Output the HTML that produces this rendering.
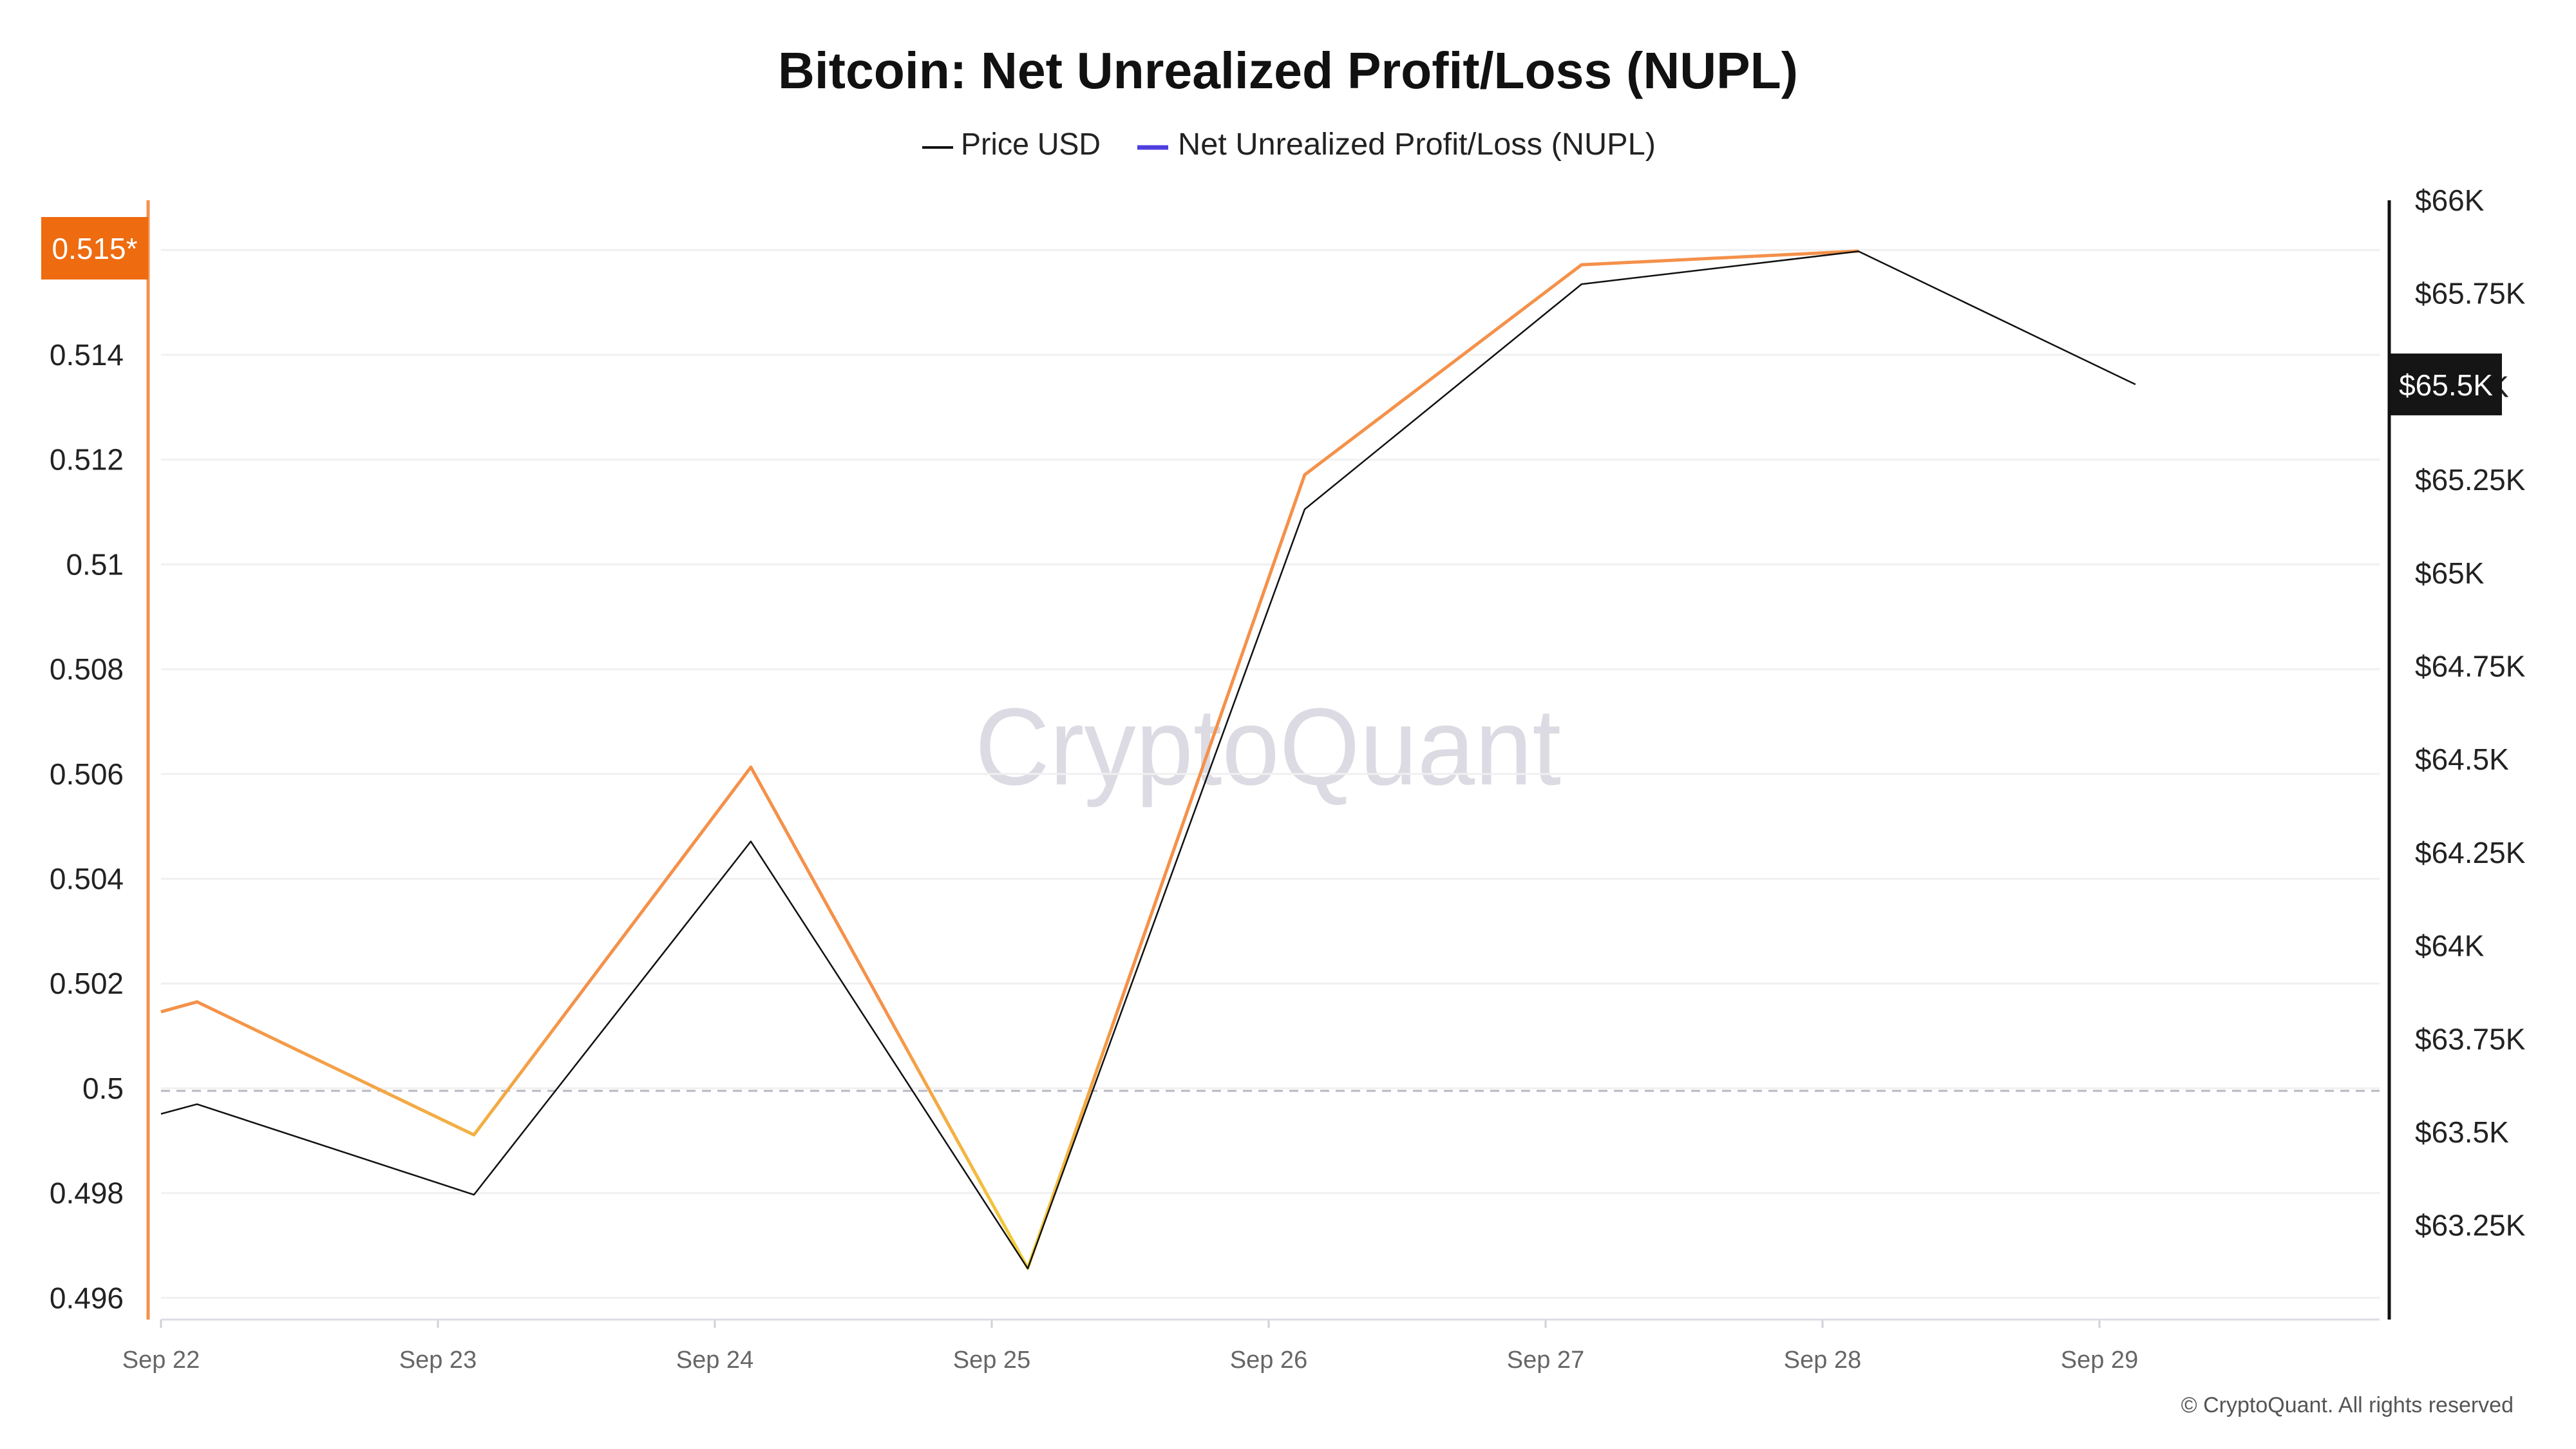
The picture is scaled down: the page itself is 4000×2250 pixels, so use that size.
<!DOCTYPE html>
<html><head><meta charset="utf-8"><style>
html,body{margin:0;padding:0;background:#fff;}
svg{display:block;font-family:"Liberation Sans",sans-serif;}
</style></head><body>
<svg id="chart" width="4000" height="2250" viewBox="0 0 4000 2250" xmlns="http://www.w3.org/2000/svg">
<defs>
<linearGradient id="nuplGrad" gradientUnits="userSpaceOnUse" x1="0" y1="1560" x2="0" y2="1970">
<stop offset="0" stop-color="#f4914a"/><stop offset="1" stop-color="#f2d23a"/>
</linearGradient>
</defs>
<rect width="4000" height="2250" fill="#fff"/>
<text x="2000" y="137" text-anchor="middle" font-size="80" font-weight="bold" fill="#111" textLength="1584" lengthAdjust="spacingAndGlyphs">Bitcoin: Net Unrealized Profit/Loss (NUPL)</text>
<g>
<line x1="1432" y1="229" x2="1480" y2="229" stroke="#111" stroke-width="4"/>
<text x="1492" y="240" font-size="48" fill="#222" textLength="217" lengthAdjust="spacingAndGlyphs">Price USD</text>
<line x1="1766" y1="229" x2="1814" y2="229" stroke="#4f3ee0" stroke-width="7"/>
<text x="1829" y="240" font-size="48" fill="#222" textLength="742" lengthAdjust="spacingAndGlyphs">Net Unrealized Profit/Loss (NUPL)</text>
</g>
<text x="1969" y="1218" text-anchor="middle" font-size="170" fill="#dcdbe3" textLength="910" lengthAdjust="spacingAndGlyphs">CryptoQuant</text>
<g id="grid"></g><g id="axes"></g><g id="series"></g>
<text x="3903" y="2193" text-anchor="end" font-size="34" fill="#555">© CryptoQuant. All rights reserved</text>
</svg>
<script>
const dates = ["Sep 22","Sep 23","Sep 24","Sep 25","Sep 26","Sep 27","Sep 28","Sep 29"];
const priceX = [0, 0.13, 1.13, 2.13, 3.13, 4.13, 5.13, 6.13, 7.13];
const priceValues = [63549, 63575, 63332, 64280, 63134, 65171, 65775, 65863, 65506];
const nuplX = [0, 0.13, 1.13, 2.13, 3.13, 4.13, 5.13, 6.13];
const nuplValues = [0.50146, 0.50165, 0.49911, 0.50613, 0.49657, 0.51171, 0.51572, 0.51598];
const leftTicks = [0.496,0.498,0.5,0.502,0.504,0.506,0.508,0.51,0.512,0.514,0.516];
const leftTickLabels = ["0.496","0.498","0.5","0.502","0.504","0.506","0.508","0.51","0.512","0.514",""];
const rightTicks = [63250,63500,63750,64000,64250,64500,64750,65000,65250,65500,65750,66000];
const rightTickLabels = ["$63.25K","$63.5K","$63.75K","$64K","$64.25K","$64.5K","$64.75K","$65K","$65.25K","$65.5K","$65.75K","$66K"];

const NS="http://www.w3.org/2000/svg";
const xS = d => 250 + d*430;
const yL = v => 551 + (0.514 - v)/0.002*162.7;
const yR = v => 311 + (66000 - v)/250*144.7;
function mk(tag, attrs, parent, txt){const e=document.createElementNS(NS,tag);for(const k in attrs)e.setAttribute(k,attrs[k]);if(txt!==undefined)e.textContent=txt;parent.appendChild(e);return e;}
const grid=document.getElementById('grid'), axes=document.getElementById('axes'), series=document.getElementById('series');

leftTicks.forEach((t,i)=>{
  const g=mk('line',{x1:250,x2:3695,y1:yL(t),y2:yL(t),stroke:'#f0f0f0','stroke-width':3},grid);
  
  
  const l=mk('text',{x:192,y:yL(t)+16,'text-anchor':'end','font-size':46,fill:'#222'},axes,leftTickLabels[i]);
  
  
});
const zl=mk('line',{x1:250,x2:3695,y1:yL(0.5)+4,y2:yL(0.5)+4,stroke:'#b8b8c4','stroke-width':3,'stroke-dasharray':'14 10'},grid);



rightTicks.forEach((t,i)=>{
  const l=mk('text',{x:3750,y:yR(t)+16,'font-size':46,fill:'#222'},axes,rightTickLabels[i]);
  
  
});
dates.forEach((d,i)=>{
  const tk=mk('line',{x1:xS(i),x2:xS(i),y1:2049,y2:2062,stroke:'#d0d0d8','stroke-width':3},axes);
  
  
  const l=mk('text',{x:xS(i),y:2124,'text-anchor':'middle','font-size':38,fill:'#666'},axes,d);
  
  
});
const xb=mk('line',{x1:250,x2:3695,y1:2049,y2:2049,stroke:'#dcdce4','stroke-width':3},axes);


const la=mk('line',{x1:230,x2:230,y1:311,y2:2049,stroke:'#f4914a','stroke-width':5},axes);


const ra=mk('line',{x1:3710,x2:3710,y1:311,y2:2049,stroke:'#111','stroke-width':5},axes);



const np=mk('polyline',{points:nuplX.map((d,i)=>xS(d)+','+yL(nuplValues[i])).join(' '),fill:'none',stroke:'url(#nuplGrad)','stroke-width':5,'stroke-linejoin':'round'},series);


const pp=mk('polyline',{points:priceX.map((d,i)=>xS(d)+','+yR(priceValues[i])).join(' '),fill:'none',stroke:'#111','stroke-width':2.5,'stroke-linejoin':'round'},series);



const lastP=priceValues[priceValues.length-1];
const ob=mk('rect',{x:64,y:337,width:166,height:97,fill:'#ee6b10'},axes);


const ot=mk('text',{x:147,y:402,'text-anchor':'middle','font-size':46,fill:'#fff'},axes,'0.515*');


const bb=mk('rect',{x:3712,y:yR(lastP)-48,width:173,height:96,fill:'#151515'},axes);


const bt=mk('text',{x:3798,y:yR(lastP)+17,'text-anchor':'middle','font-size':46,fill:'#fff'},axes,'$65.5K');


</script>
</body></html>
